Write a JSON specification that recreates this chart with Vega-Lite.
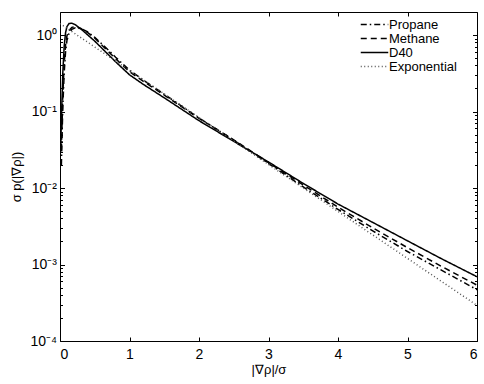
{
  "$schema": "https://vega.github.io/schema/vega-lite/v6.json",
  "width": 417,
  "height": 329,
  "autosize": "none",
  "padding": {"left": 60, "top": 12, "right": 7, "bottom": 43},
  "background": "white",
  "config": {
    "view": {"stroke": "black", "strokeWidth": 1},
    "font": "Liberation Sans",
    "axis": {"domainColor": "black", "tickColor": "black", "labelColor": "black", "titleColor": "black", "labelFont": "Liberation Sans", "titleFont": "Liberation Sans", "titleFontWeight": "normal", "grid": false, "domain": false},
    "legend": {"labelFont": "Liberation Sans", "labelColor": "black", "rowPadding": -2, "labelFontSize": 13}
  },
  "data": {"values": [
    {"series": "D40", "x": 0.01, "p": 0.0316},
    {"series": "D40", "x": 0.02, "p": 0.0794},
    {"series": "D40", "x": 0.04, "p": 0.316},
    {"series": "D40", "x": 0.06, "p": 0.708},
    {"series": "D40", "x": 0.08, "p": 1.072},
    {"series": "D40", "x": 0.1, "p": 1.288},
    {"series": "D40", "x": 0.13, "p": 1.413},
    {"series": "D40", "x": 0.17, "p": 1.429},
    {"series": "D40", "x": 0.22, "p": 1.365},
    {"series": "D40", "x": 0.3, "p": 1.202},
    {"series": "D40", "x": 0.4, "p": 1.0},
    {"series": "D40", "x": 0.5, "p": 0.832},
    {"series": "D40", "x": 0.6, "p": 0.676},
    {"series": "D40", "x": 0.7, "p": 0.55},
    {"series": "D40", "x": 0.8, "p": 0.447},
    {"series": "D40", "x": 0.9, "p": 0.367},
    {"series": "D40", "x": 1.0, "p": 0.302},
    {"series": "D40", "x": 1.2, "p": 0.226},
    {"series": "D40", "x": 1.5, "p": 0.151},
    {"series": "D40", "x": 2.0, "p": 0.0759},
    {"series": "D40", "x": 2.5, "p": 0.0407},
    {"series": "D40", "x": 3.0, "p": 0.0219},
    {"series": "D40", "x": 3.5, "p": 0.01148},
    {"series": "D40", "x": 4.0, "p": 0.00617},
    {"series": "D40", "x": 4.5, "p": 0.00355},
    {"series": "D40", "x": 5.0, "p": 0.00204},
    {"series": "D40", "x": 5.5, "p": 0.001175},
    {"series": "D40", "x": 6.0, "p": 0.000692},
    {"series": "Methane", "x": 0.02, "p": 0.0316},
    {"series": "Methane", "x": 0.04, "p": 0.158},
    {"series": "Methane", "x": 0.06, "p": 0.417},
    {"series": "Methane", "x": 0.08, "p": 0.741},
    {"series": "Methane", "x": 0.1, "p": 0.977},
    {"series": "Methane", "x": 0.13, "p": 1.148},
    {"series": "Methane", "x": 0.17, "p": 1.259},
    {"series": "Methane", "x": 0.22, "p": 1.288},
    {"series": "Methane", "x": 0.3, "p": 1.216},
    {"series": "Methane", "x": 0.4, "p": 1.072},
    {"series": "Methane", "x": 0.5, "p": 0.912},
    {"series": "Methane", "x": 0.6, "p": 0.741},
    {"series": "Methane", "x": 0.7, "p": 0.603},
    {"series": "Methane", "x": 0.8, "p": 0.49},
    {"series": "Methane", "x": 0.9, "p": 0.403},
    {"series": "Methane", "x": 1.0, "p": 0.331},
    {"series": "Methane", "x": 1.2, "p": 0.248},
    {"series": "Methane", "x": 1.5, "p": 0.164},
    {"series": "Methane", "x": 2.0, "p": 0.0813},
    {"series": "Methane", "x": 2.5, "p": 0.0427},
    {"series": "Methane", "x": 3.0, "p": 0.0214},
    {"series": "Methane", "x": 3.5, "p": 0.01096},
    {"series": "Methane", "x": 4.0, "p": 0.00562},
    {"series": "Methane", "x": 4.5, "p": 0.00302},
    {"series": "Methane", "x": 5.0, "p": 0.00166},
    {"series": "Methane", "x": 5.5, "p": 0.000933},
    {"series": "Methane", "x": 6.0, "p": 0.000537},
    {"series": "Propane", "x": 0.02, "p": 0.02},
    {"series": "Propane", "x": 0.04, "p": 0.112},
    {"series": "Propane", "x": 0.06, "p": 0.316},
    {"series": "Propane", "x": 0.08, "p": 0.603},
    {"series": "Propane", "x": 0.1, "p": 0.851},
    {"series": "Propane", "x": 0.13, "p": 1.047},
    {"series": "Propane", "x": 0.17, "p": 1.189},
    {"series": "Propane", "x": 0.22, "p": 1.245},
    {"series": "Propane", "x": 0.3, "p": 1.216},
    {"series": "Propane", "x": 0.4, "p": 1.096},
    {"series": "Propane", "x": 0.5, "p": 0.933},
    {"series": "Propane", "x": 0.6, "p": 0.767},
    {"series": "Propane", "x": 0.7, "p": 0.631},
    {"series": "Propane", "x": 0.8, "p": 0.513},
    {"series": "Propane", "x": 0.9, "p": 0.422},
    {"series": "Propane", "x": 1.0, "p": 0.347},
    {"series": "Propane", "x": 1.2, "p": 0.257},
    {"series": "Propane", "x": 1.5, "p": 0.168},
    {"series": "Propane", "x": 2.0, "p": 0.0822},
    {"series": "Propane", "x": 2.5, "p": 0.0422},
    {"series": "Propane", "x": 3.0, "p": 0.0209},
    {"series": "Propane", "x": 3.5, "p": 0.01035},
    {"series": "Propane", "x": 4.0, "p": 0.00525},
    {"series": "Propane", "x": 4.5, "p": 0.00275},
    {"series": "Propane", "x": 5.0, "p": 0.00148},
    {"series": "Propane", "x": 5.5, "p": 0.000832},
    {"series": "Propane", "x": 6.0, "p": 0.000468},
    {"series": "Exponential", "x": 0.0, "p": 1.414},
    {"series": "Exponential", "x": 1.0, "p": 0.3438},
    {"series": "Exponential", "x": 2.0, "p": 0.08358},
    {"series": "Exponential", "x": 3.0, "p": 0.02032},
    {"series": "Exponential", "x": 4.0, "p": 0.00494},
    {"series": "Exponential", "x": 5.0, "p": 0.001201},
    {"series": "Exponential", "x": 6.0, "p": 0.000292}
  ]},
  "layer": [
    {
      "mark": {"type": "line", "strokeWidth": 1.5, "clip": true},
      "encoding": {
        "x": {"field": "x", "type": "quantitative",
          "scale": {"domain": [0, 6], "nice": false, "zero": false},
          "axis": {"orient": "bottom", "values": [0, 1, 2, 3, 4, 5, 6], "tickSize": -4, "labelPadding": 10, "labelFontSize": 14, "title": "|∇ρ|/σ", "titleFontSize": 13, "titlePadding": 2}},
        "y": {"field": "p", "type": "quantitative",
          "scale": {"type": "log", "domain": [0.0001, 2], "nice": false},
          "axis": {"orient": "left",
            "values": [0.0001, 0.0002, 0.0003, 0.0004, 0.0005, 0.0006, 0.0007, 0.0008, 0.0009, 0.001, 0.002, 0.003, 0.004, 0.005, 0.006, 0.007, 0.008, 0.009, 0.01, 0.02, 0.03, 0.04, 0.05, 0.06, 0.07, 0.08, 0.09, 0.1, 0.2, 0.3, 0.4, 0.5, 0.6, 0.7, 0.8, 0.9, 1],
            "labelExpr": "datum.value == 1 ? '10⁰' : datum.value == 0.1 ? '10⁻¹' : datum.value == 0.01 ? '10⁻²' : datum.value == 0.001 ? '10⁻³' : datum.value == 0.0001 ? '10⁻⁴' : ''",
            "tickSize": {"condition": {"test": "indexof([1, 0.1, 0.01, 0.001, 0.0001], datum.value) >= 0", "value": -4.5}, "value": -2.5},
            "labelPadding": 8, "labelFontSize": 14, "labelOverlap": false, "labelFlush": false,
            "title": "σ p(|∇ρ|)", "titleFontSize": 13, "titlePadding": 6}},
        "color": {"field": "series", "type": "nominal",
          "scale": {"domain": ["Propane", "Methane", "D40", "Exponential"], "range": ["black", "black", "black", "#555555"]},
          "legend": {"orient": "none", "legendX": 308, "legendY": 6, "title": null, "symbolType": "M-2.5,0H2.5", "symbolSize": 121, "symbolStrokeWidth": 1.4, "labelOffset": 8, "padding": 0}},
        "strokeDash": {"field": "series", "type": "nominal",
          "scale": {"domain": ["Propane", "Methane", "D40", "Exponential"], "range": [[6, 3, 1.5, 3], [6, 4], [1, 0], [1, 2.5]]},
          "legend": {"orient": "none", "legendX": 308, "legendY": 6, "title": null, "symbolType": "M-2.5,0H2.5", "symbolSize": 121, "symbolStrokeWidth": 1.4, "labelOffset": 8, "padding": 0}}
      }
    },
    {
      "mark": {"type": "line", "opacity": 0},
      "encoding": {
        "x": {"field": "x", "type": "quantitative",
          "scale": {"domain": [0, 6], "nice": false, "zero": false},
          "axis": {"orient": "top", "values": [0, 1, 2, 3, 4, 5, 6], "tickSize": -4, "labels": false, "title": null}},
        "y": {"field": "p", "type": "quantitative",
          "scale": {"type": "log", "domain": [0.0001, 2], "nice": false},
          "axis": {"orient": "right",
            "values": [0.0001, 0.0002, 0.0003, 0.0004, 0.0005, 0.0006, 0.0007, 0.0008, 0.0009, 0.001, 0.002, 0.003, 0.004, 0.005, 0.006, 0.007, 0.008, 0.009, 0.01, 0.02, 0.03, 0.04, 0.05, 0.06, 0.07, 0.08, 0.09, 0.1, 0.2, 0.3, 0.4, 0.5, 0.6, 0.7, 0.8, 0.9, 1],
            "tickSize": {"condition": {"test": "indexof([1, 0.1, 0.01, 0.001, 0.0001], datum.value) >= 0", "value": -4.5}, "value": -2.5},
            "labels": false, "title": null}}
      }
    }
  ],
  "resolve": {"scale": {"x": "independent", "y": "independent"}}
}
